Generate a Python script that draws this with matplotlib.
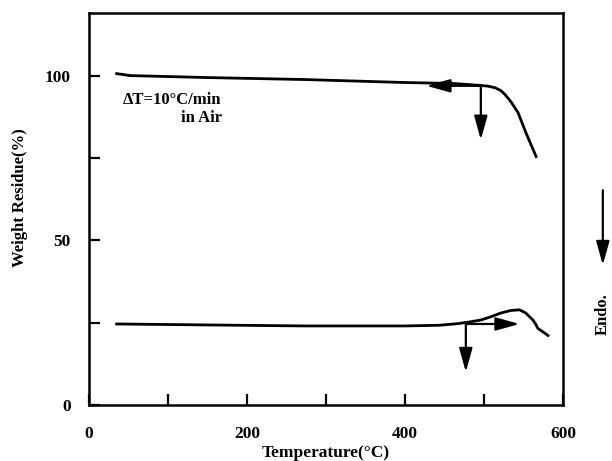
import matplotlib
matplotlib.use('Agg')
import matplotlib.pyplot as plt

# TGA curve (weight residue)
tga_temp = [35, 52, 150, 273, 399, 462, 496, 505, 514, 521, 526, 534, 543, 553, 566]
tga_weight = [100.6, 100.0, 99.4, 98.8, 97.9, 97.6, 97.0, 96.8, 96.3, 95.5, 94.4, 92.1, 88.8, 82.7, 75.4]

# DTA curve
dta_temp = [35, 150, 273, 399, 443, 467, 484, 496, 509, 521, 534, 545, 553, 562, 566, 568, 574, 581]
dta_signal = [24.6, 24.3, 24.0, 24.0, 24.2, 24.7, 25.3, 25.8, 26.8, 27.9, 28.7, 28.9, 27.9, 25.8, 24.3, 23.3, 22.3, 21.1]

# onset arrows: (start temp, start value, end temp, end value)
tga_arrows = [(496, 96.9, 427, 96.9), (496, 96.9, 496, 80.5)]
dta_arrows = [(477, 24.6, 545, 24.6), (477, 24.6, 477, 10.0)]

plt.rcParams['font.family'] = ['Liberation Serif', 'DejaVu Serif']
plt.rcParams['font.weight'] = 'bold'

fig = plt.figure(figsize=(6.12, 4.61), dpi=100)
ax = fig.add_axes([89 / 612, 1 - 405 / 461, 474 / 612, 392 / 461])

ax.plot(tga_temp, tga_weight, color='black', lw=2, solid_joinstyle='round')
ax.plot(dta_temp, dta_signal, color='black', lw=2, solid_joinstyle='round')

arrow_style = dict(arrowstyle='-|>,head_length=0.9,head_width=0.25', mutation_scale=16,
                   lw=1.6, color='black', shrinkA=0, shrinkB=0)
for x0, y0, x1, y1 in tga_arrows + dta_arrows:
    ax.annotate('', xy=(x1, y1), xytext=(x0, y0), arrowprops=arrow_style)

ax.text(168, 92.7, 'ΔT=10°C/min', ha='right', va='center', fontsize=12, fontweight='bold')
ax.text(168, 87.0, 'in Air', ha='right', va='center', fontsize=12, fontweight='bold')

# Endo. arrow outside the axes
ax.annotate('', xy=(1.084, 0.357), xytext=(1.084, 0.548), xycoords='axes fraction',
            arrowprops=arrow_style, annotation_clip=False)
ax.text(1.084, 0.232, 'Endo.', rotation=90, ha='center', va='center',
        fontsize=12, fontweight='bold', transform=ax.transAxes)

ax.set_xlim(0, 598)
ax.set_ylim(0, 119)
ax.set_xticks([0, 100, 200, 300, 400, 500, 600])
ax.set_xticklabels(['0', '', '200', '', '400', '', '600'])
ax.set_yticks([0, 25, 50, 75, 100])
ax.set_yticklabels(['0', '', '50', '', '100'])
ax.tick_params(direction='in', length=8, width=1.6, labelsize=12.5)
ax.tick_params(axis='x', pad=15)
ax.tick_params(axis='y', pad=13)
for s in ax.spines.values():
    s.set_linewidth(1.8)

ax.set_xlabel('Temperature(°C)', fontsize=12.5, fontweight='bold')
ax.xaxis.set_label_coords(0.5, -0.102)
ax.set_ylabel('Weight Residue(%)', fontsize=12, fontweight='bold')
ax.yaxis.set_label_coords(-0.129, 0.53)

fig.savefig('out.png', dpi=100)
